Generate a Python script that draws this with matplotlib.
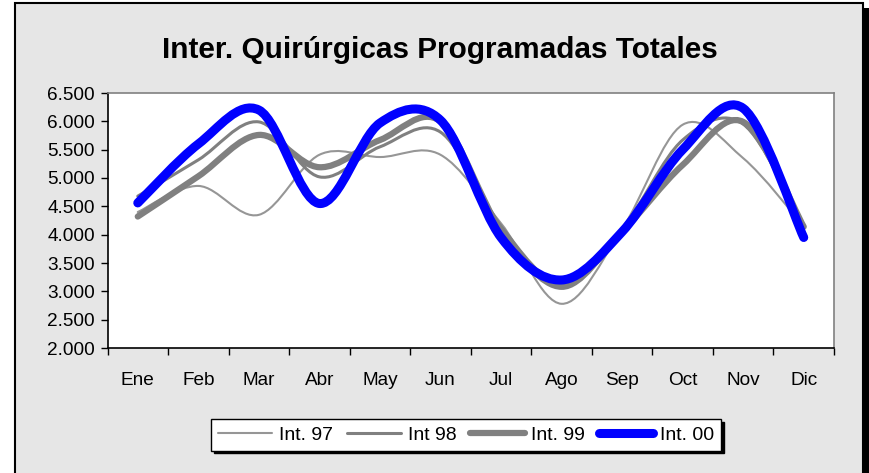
import numpy as np
import matplotlib
matplotlib.use('Agg')
from matplotlib import pyplot as plt
from matplotlib.path import Path
from matplotlib.patches import PathPatch, Rectangle
from matplotlib.lines import Line2D
from matplotlib.ticker import FuncFormatter

plt.rcParams['font.family'] = ['Liberation Sans', 'DejaVu Sans']

months = ['Ene', 'Feb', 'Mar', 'Abr', 'May', 'Jun', 'Jul', 'Ago', 'Sep', 'Oct', 'Nov', 'Dic']
int_97 = [4400, 4860, 4350, 5410, 5370, 5410, 4200, 2780, 4100, 5940, 5350, 4150]
int_98 = [4680, 5320, 5990, 5020, 5550, 5810, 4150, 3150, 4100, 5670, 5950, 4150]
int_99 = [4320, 5030, 5760, 5190, 5670, 6000, 4080, 3080, 4050, 5230, 5990, 4140]
int_00 = [4560, 5600, 6200, 4550, 5970, 6020, 3950, 3200, 4050, 5500, 6230, 3950]

series = [
    ('Int. 97', int_97, '#969696', 1.5),
    ('Int 98', int_98, '#808080', 2.2),
    ('Int. 99', int_99, '#808080', 4.5),
    ('Int. 00', int_00, '#0000ff', 6.5),
]


def smooth_path(xs, ys):
    # bezier path through the points, like the smoothed lines of a spreadsheet
    pts = np.column_stack([xs, ys]).astype(float)
    n = len(pts)
    verts = [pts[0]]
    codes = [Path.MOVETO]
    for i in range(n - 1):
        p0 = pts[i - 1] if i > 0 else pts[i]
        p1 = pts[i]
        p2 = pts[i + 1]
        p3 = pts[i + 2] if i + 2 < n else pts[i + 1]
        verts += [p1 + (p2 - p0) / 6, p2 - (p3 - p1) / 6, p2]
        codes += [Path.CURVE4] * 3
    return Path(verts, codes)


fig = plt.figure(figsize=(8.69, 4.73), dpi=100)
fig.patch.set_facecolor('white')

# chart area with border and shadow
fig.patches.append(Rectangle((20 / 869, -0.05), 849 / 869, 1 - 8 / 473 + 0.05,
                             transform=fig.transFigure, facecolor='black', edgecolor='none', zorder=-3))
fig.patches.append(Rectangle((15 / 869, -0.05), 848 / 869, 1 - 3 / 473 + 0.05,
                             transform=fig.transFigure, facecolor='#e6e6e6', edgecolor='black',
                             linewidth=1.5, zorder=-2))

ax = fig.add_axes([107.5 / 869, 1 - 348 / 473, (834 - 107.5) / 869, (348 - 93) / 473])
ax.set_facecolor('white')

x = np.arange(len(months))
for name, vals, color, lw in series:
    patch = PathPatch(smooth_path(x, vals), fill=False, edgecolor=color, linewidth=lw,
                      capstyle='round', joinstyle='round')
    ax.add_patch(patch)

ax.set_xlim(-0.5, len(months) - 0.5)
ax.set_ylim(2000, 6500)
ax.set_yticks(np.arange(2000, 6501, 500))
ax.yaxis.set_major_formatter(FuncFormatter(lambda v, p: f'{int(v):,}'.replace(',', '.')))

ax.set_xticks(np.arange(-0.5, len(months), 1))
ax.set_xticklabels([])
ax.set_xticks(x, minor=True)
ax.set_xticklabels(months, minor=True)
ax.tick_params(axis='x', which='major', direction='out', length=5, width=1, color='black')
ax.tick_params(axis='x', which='minor', length=0, pad=17, labelsize=13.7)
ax.tick_params(axis='y', direction='out', length=5, width=1, pad=4, labelsize=13.7)

for s in ['left', 'bottom']:
    ax.spines[s].set_color('black')
    ax.spines[s].set_linewidth(1.2)
for s in ['top', 'right']:
    ax.spines[s].set_color('#808080')
    ax.spines[s].set_linewidth(1.2)

fig.text(440 / 869, 1 - 50 / 473, 'Inter. Quirúrgicas Programadas Totales',
         ha='center', va='center', fontsize=21.4, fontweight='bold')

handles = [Line2D([], [], color=c, linewidth=lw, solid_capstyle='round') for _, _, c, lw in series]
labels = [name for name, _, _, _ in series]
leg = fig.legend(handles, labels, loc='center', bbox_to_anchor=(466 / 869, 1 - 435 / 473), ncol=4,
                 fontsize=14, frameon=True, fancybox=False, edgecolor='black',
                 handlelength=2.8, handletextpad=0.35, columnspacing=0.7, borderpad=0.35,
                 shadow={'color': 'black', 'alpha': 1})
leg.get_frame().set_linewidth(1)
leg.get_frame().set_facecolor('white')

fig.savefig('out.png', dpi=100)
